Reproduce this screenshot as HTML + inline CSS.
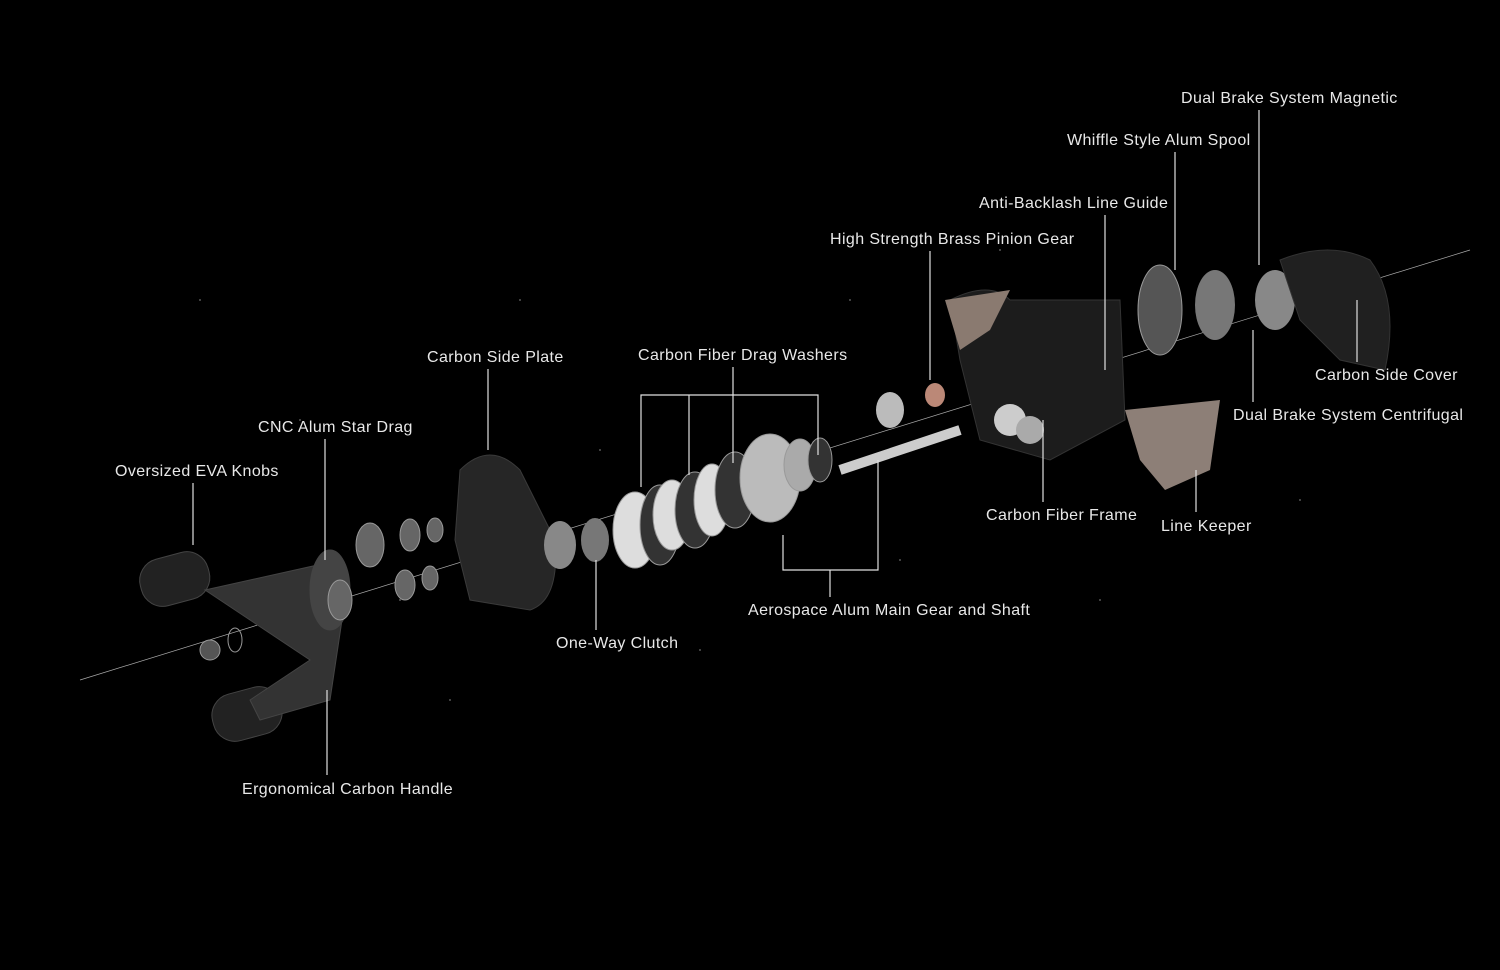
<!DOCTYPE html>
<html><head><meta charset="utf-8"><style>
html,body{margin:0;padding:0;background:#000;}
svg{display:block}
text{font-family:"Liberation Sans",sans-serif;font-size:16px;fill:#e8e8e8;letter-spacing:0.4px}
</style></head><body>
<svg width="1500" height="970" viewBox="0 0 1500 970" xmlns="http://www.w3.org/2000/svg">
<rect width="1500" height="970" fill="#000"/>
<g fill="#555">
<circle cx="300" cy="420" r="1"/><circle cx="520" cy="300" r="1"/><circle cx="700" cy="650" r="1"/><circle cx="900" cy="560" r="1"/><circle cx="400" cy="600" r="1"/><circle cx="1100" cy="600" r="1"/><circle cx="200" cy="300" r="1"/><circle cx="1300" cy="500" r="1"/><circle cx="600" cy="450" r="1"/><circle cx="850" cy="300" r="1"/><circle cx="1000" cy="250" r="1"/><circle cx="450" cy="700" r="1"/>
</g>
<line x1="80" y1="680" x2="1470" y2="250" stroke="#aaa" stroke-width="0.7"/>
<g fill="#222" stroke="#444">
<rect x="140" y="555" width="70" height="48" rx="22" transform="rotate(-15 175 580)"/>
<rect x="212" y="690" width="70" height="48" rx="22" transform="rotate(-15 247 714)"/>
<path d="M205 590 L340 560 L345 600 L330 700 L260 720 L250 700 L310 660 Z" fill="#333"/>
<ellipse cx="330" cy="590" rx="20" ry="40" fill="#444"/>
</g>
<g fill="#666" stroke="#999">
<ellipse cx="370" cy="545" rx="14" ry="22"/><ellipse cx="410" cy="535" rx="10" ry="16"/><ellipse cx="435" cy="530" rx="8" ry="12"/>
<ellipse cx="340" cy="600" rx="12" ry="20"/><ellipse cx="405" cy="585" rx="10" ry="15"/><ellipse cx="430" cy="578" rx="8" ry="12"/>
<ellipse cx="210" cy="650" rx="10" ry="10" fill="#555"/><ellipse cx="235" cy="640" rx="7" ry="12" fill="none"/>
</g>
<path d="M460 470 Q490 440 520 470 L555 540 Q560 600 530 610 L470 600 L455 540 Z" fill="#262626" stroke="#3a3a3a"/>
<ellipse cx="560" cy="545" rx="16" ry="24" fill="#888"/><ellipse cx="595" cy="540" rx="14" ry="22" fill="#777"/>
<g stroke="#999">
<ellipse cx="635" cy="530" rx="22" ry="38" fill="#ddd"/>
<ellipse cx="660" cy="525" rx="20" ry="40" fill="#333"/>
<ellipse cx="672" cy="515" rx="19" ry="35" fill="#ddd"/>
<ellipse cx="695" cy="510" rx="20" ry="38" fill="#333"/>
<ellipse cx="712" cy="500" rx="18" ry="36" fill="#ddd"/>
<ellipse cx="735" cy="490" rx="20" ry="38" fill="#333"/>
<ellipse cx="770" cy="478" rx="30" ry="44" fill="#bbb"/>
<ellipse cx="800" cy="465" rx="16" ry="26" fill="#aaa"/>
<ellipse cx="820" cy="460" rx="12" ry="22" fill="#333"/>
</g>
<line x1="840" y1="470" x2="960" y2="430" stroke="#ccc" stroke-width="10"/>
<path d="M950 300 Q990 280 1010 300 L1120 300 L1125 420 L1050 460 L980 440 L960 360 Z" fill="#1c1c1c" stroke="#333"/>
<path d="M945 300 L1010 290 L990 330 L960 350 Z" fill="#8a7a70"/>
<path d="M1125 410 L1220 400 L1210 470 L1165 490 L1140 460 Z" fill="#8d7f77"/>
<circle cx="1010" cy="420" r="16" fill="#ccc"/><circle cx="1030" cy="430" r="14" fill="#aaa"/>
<ellipse cx="1160" cy="310" rx="22" ry="45" fill="#555" stroke="#999"/>
<ellipse cx="1215" cy="305" rx="20" ry="35" fill="#777"/>
<ellipse cx="1275" cy="300" rx="20" ry="30" fill="#888"/>
<path d="M1280 260 Q1330 240 1370 260 Q1400 300 1385 370 L1340 360 L1300 320 Z" fill="#202020" stroke="#333"/>
<ellipse cx="890" cy="410" rx="14" ry="18" fill="#bbb"/><ellipse cx="935" cy="395" rx="10" ry="12" fill="#b87"/>
<g stroke="#e0e0e0" stroke-width="1.2" fill="none">
<line x1="1259" y1="110" x2="1259" y2="265"/>
<line x1="1175" y1="152" x2="1175" y2="270"/>
<line x1="1105" y1="215" x2="1105" y2="370"/>
<line x1="930" y1="251" x2="930" y2="380"/>
<line x1="488" y1="369" x2="488" y2="450"/>
<polyline points="641,487 641,395 818,395 818,455"/>
<line x1="689" y1="395" x2="689" y2="475"/>
<line x1="733" y1="367" x2="733" y2="463"/>
<line x1="325" y1="439" x2="325" y2="560"/>
<line x1="193" y1="483" x2="193" y2="545"/>
<line x1="1357" y1="362" x2="1357" y2="300"/>
<line x1="1253" y1="402" x2="1253" y2="330"/>
<line x1="1043" y1="502" x2="1043" y2="420"/>
<line x1="1196" y1="512" x2="1196" y2="470"/>
<polyline points="783,535 783,570 878,570 878,460"/>
<line x1="830" y1="570" x2="830" y2="597"/>
<line x1="596" y1="630" x2="596" y2="560"/>
<line x1="327" y1="775" x2="327" y2="690"/>
</g>
<text x="1181" y="103">Dual Brake System Magnetic</text>
<text x="1067" y="145">Whiffle Style Alum Spool</text>
<text x="979" y="208">Anti-Backlash Line Guide</text>
<text x="830" y="244">High Strength Brass Pinion Gear</text>
<text x="427" y="362">Carbon Side Plate</text>
<text x="638" y="360">Carbon Fiber Drag Washers</text>
<text x="258" y="432">CNC Alum Star Drag</text>
<text x="115" y="476">Oversized EVA Knobs</text>
<text x="1315" y="380">Carbon Side Cover</text>
<text x="1233" y="420">Dual Brake System Centrifugal</text>
<text x="986" y="520">Carbon Fiber Frame</text>
<text x="1161" y="531">Line Keeper</text>
<text x="748" y="615">Aerospace Alum Main Gear and Shaft</text>
<text x="556" y="648">One-Way Clutch</text>
<text x="242" y="794">Ergonomical Carbon Handle</text>
</svg>
</body></html>
